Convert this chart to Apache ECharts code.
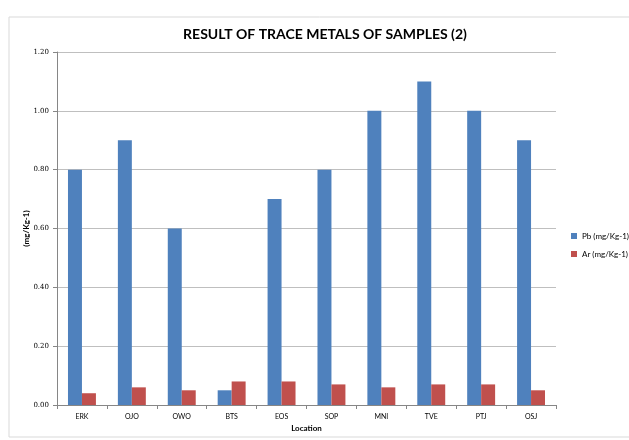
<!DOCTYPE html>
<html><head><meta charset="utf-8">
<script src="https://cdn.jsdelivr.net/npm/echarts@6/dist/echarts.min.js"></script>
<style>html,body{margin:0;padding:0;background:#fff}#c{width:629px;height:440px}</style>
</head><body><div id="c"></div>
<script>
const categories = ['ERK','OJO','OWO','BTS','EOS','SOP','MNI','TVE','PTJ','OSJ'];
const pbValues = [0.80,0.90,0.60,0.05,0.70,0.80,1.00,1.10,1.00,0.90];
const arValues = [0.04,0.06,0.05,0.08,0.08,0.07,0.06,0.07,0.07,0.05];
const seriesNames = ['Pb (mg/Kg-1)','Ar (mg/Kg-1)'];

const chart = echarts.init(document.getElementById('c'));
chart.setOption({
  animation:false,
  backgroundColor:'#fff',
  graphic:[{type:'rect',shape:{x:9,y:17,width:640,height:420},style:{fill:'none',stroke:'#d9d9d9',lineWidth:1},silent:true}],
  title:{text:'RESULT OF TRACE METALS OF SAMPLES (2)',left:320,top:22,textAlign:'center',
    textStyle:{fontFamily:'Lato',fontWeight:'bold',fontSize:14,color:'#000'}},
  legend:{orient:'vertical',left:566,top:227,itemWidth:6,itemHeight:6,itemGap:10,icon:'rect',
    textStyle:{fontFamily:'Lato',fontSize:8,color:'#000'},data:seriesNames},
  grid:{left:57,right:73,top:52,bottom:35,containLabel:false},
  xAxis:{type:'category',data:categories,name:'Location',nameLocation:'middle',nameGap:17,
    nameTextStyle:{fontFamily:'Lato',fontWeight:'bold',fontSize:8,color:'#000'},
    axisLine:{lineStyle:{color:'#868686'}},axisTick:{show:true,alignWithLabel:false,length:4,lineStyle:{color:'#868686'}},
    axisLabel:{fontFamily:'Lato',fontSize:7,color:'#000',margin:8}},
  yAxis:{type:'value',min:0,max:1.2,interval:0.2,name:'(mg/Kg-1)',nameLocation:'middle',nameGap:27,nameRotate:90,
    nameMoveOverlap:false,
    nameTextStyle:{fontFamily:'Lato',fontWeight:'bold',fontSize:8,color:'#000'},
    axisLine:{show:true,lineStyle:{color:'#868686'}},axisTick:{show:true,length:4,lineStyle:{color:'#868686'}},
    axisLabel:{fontFamily:'DejaVu Serif',fontSize:7,color:'#000',margin:8,formatter:v=>v.toFixed(2)},
    splitLine:{lineStyle:{color:'#bfbfbf'}}},
  series:[
    {name:seriesNames[0],type:'bar',data:pbValues,barGap:'0%',barCategoryGap:'44%',itemStyle:{color:'#4F81BD'}},
    {name:seriesNames[1],type:'bar',data:arValues,itemStyle:{color:'#C0504D'}}
  ]
});
</script></body></html>
